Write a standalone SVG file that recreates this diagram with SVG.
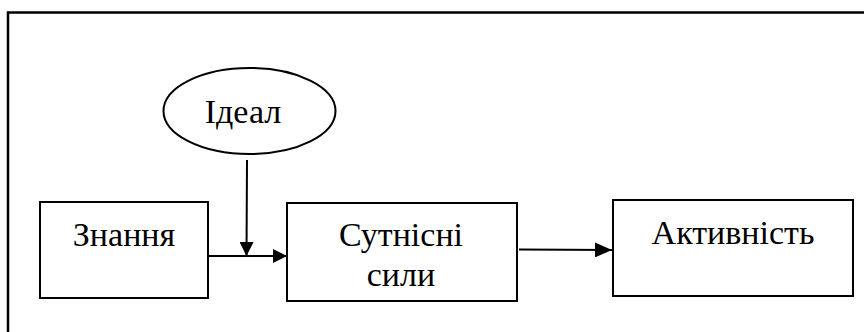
<svg xmlns="http://www.w3.org/2000/svg" width="864" height="332" viewBox="0 0 864 332">
<style>
.box{fill:#fff;stroke:#000;stroke-width:2}
.lbl{font-family:"Liberation Serif","Times New Roman",serif;font-size:34px;fill:#000;text-anchor:middle}
.conn{stroke:#000;stroke-width:2;fill:none}
</style>
<defs>
<marker id="ah2" viewBox="0 0 17 15" refX="17" refY="7.5" markerWidth="17" markerHeight="15" markerUnits="userSpaceOnUse" orient="auto">
<path d="M0,0 L17,7.5 L0,15 z" fill="#000"/>
</marker>
<marker id="ah3" viewBox="0 0 14 14" refX="14" refY="7" markerWidth="14" markerHeight="14" markerUnits="userSpaceOnUse" orient="auto">
<path d="M0,0 L14,7 L0,14 z" fill="#000"/>
</marker>
</defs>
<rect width="864" height="332" fill="#fff"/>
<path d="M8,332 L8,12.5 L864,12.5" fill="none" stroke="#000" stroke-width="2.5"/>
<g id="node-ideal">
<ellipse cx="249.5" cy="111" rx="86" ry="43" class="box" stroke-width="1.5"/>
<text x="243" y="123" class="lbl">Ідеал</text>
</g>
<g id="node-znannia">
<rect x="40" y="202" width="168" height="96" class="box"/>
<text x="124" y="246" class="lbl">Знання</text>
</g>
<g id="node-sutnisni">
<rect x="287" y="203" width="230" height="98" class="box"/>
<text x="401" y="246" class="lbl">Сутнісні</text>
<text x="401" y="286" class="lbl">сили</text>
</g>
<g id="node-aktyvnist">
<rect x="613" y="200" width="240" height="96" class="box"/>
<text x="733" y="244" class="lbl">Активність</text>
</g>
<g id="connectors">
<line x1="208" y1="256" x2="287" y2="256" class="conn" marker-end="url(#ah3)"/>
<line x1="247" y1="160" x2="246.5" y2="256" class="conn" stroke-width="1.5" marker-end="url(#ah3)"/>
<line x1="519" y1="249.5" x2="612" y2="250" class="conn" marker-end="url(#ah2)"/>
</g>
</svg>
